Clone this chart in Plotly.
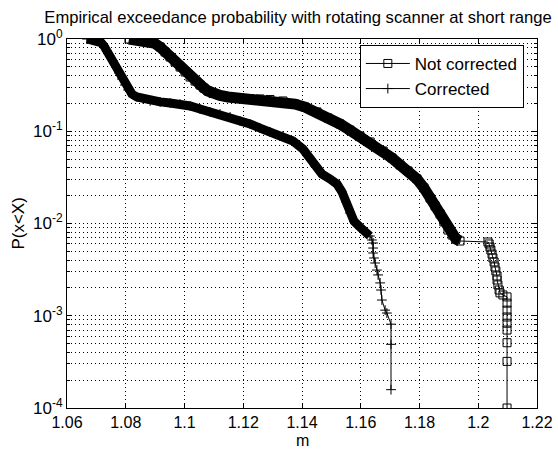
import plotly.graph_objects as go

# Empirical exceedance probability, scanner range readings (m)
# Not corrected: dense part followed by the sparse upper tail
nc_x = [1.0811, 1.0828, 1.0845, 1.0862, 1.0879, 1.0896, 1.0917, 1.0934, 1.0951, 1.0968,
        1.0985, 1.1002, 1.1019, 1.1036, 1.1053, 1.1066, 1.1080, 1.1097, 1.1121, 1.1148,
        1.1189, 1.1223, 1.1257, 1.1291, 1.1335, 1.1376, 1.1410, 1.1451, 1.1489, 1.1529,
        1.1563, 1.1597, 1.1632, 1.1676, 1.1706, 1.1734, 1.1761, 1.1791, 1.1815, 1.1836,
        1.1853, 1.1870, 1.1883, 1.1897, 1.1911, 1.1924, 1.1938,
        1.2033, 1.2037, 1.2040, 1.2043, 1.2047, 1.2050, 1.2054, 1.2057, 1.2060, 1.2064,
        1.2064, 1.2067, 1.2071, 1.2074, 1.2084, 1.2098, 1.2098, 1.2098, 1.2098, 1.2098,
        1.2098, 1.2098, 1.2098, 1.2098]
nc_p = [1.0, 0.993, 0.985, 0.970, 0.947, 0.905, 0.819, 0.723, 0.638, 0.563,
        0.497, 0.439, 0.387, 0.350, 0.317, 0.294, 0.273, 0.257, 0.244, 0.235,
        0.229, 0.226, 0.224, 0.221, 0.213, 0.197, 0.183, 0.162, 0.139, 0.120,
        0.103, 0.0888, 0.0765, 0.0611, 0.0513, 0.0431, 0.0371, 0.0304, 0.0243, 0.0189,
        0.0155, 0.0127, 0.0104, 0.0085, 0.0075, 0.0068, 0.00646,
        0.0063, 0.0060, 0.00556, 0.00516, 0.00467, 0.00423, 0.00383, 0.00338, 0.00306, 0.0027,
        0.00244, 0.00216, 0.0019, 0.00177, 0.00168, 0.0016, 0.00137, 0.00115, 0.00097, 0.00083,
        0.0007, 0.00051, 0.00032, 0.0001]
nc_dense = 47  # points in the densely sampled part

# Corrected
c_x = [1.0668, 1.0685, 1.0702, 1.0716, 1.0726, 1.0736, 1.0746, 1.0757, 1.0767, 1.0777,
       1.0787, 1.0797, 1.0808, 1.0821, 1.0838, 1.0859, 1.0883, 1.0917, 1.0951, 1.0985,
       1.1019, 1.1053, 1.1087, 1.1121, 1.1155, 1.1189, 1.1223, 1.1257, 1.1291, 1.1335,
       1.1369, 1.1403, 1.1427, 1.1444, 1.1468, 1.1495, 1.1519, 1.1536, 1.1550, 1.1563,
       1.1577, 1.1597, 1.1618, 1.1631,
       1.1638, 1.1642, 1.1642, 1.1642, 1.1645, 1.1649, 1.1655, 1.1659, 1.1666, 1.1669,
       1.1672, 1.1683, 1.1689, 1.1703, 1.1703, 1.1703]
c_p = [1.0, 0.988, 0.963, 0.916, 0.840, 0.741, 0.654, 0.578, 0.497, 0.428,
       0.368, 0.317, 0.280, 0.253, 0.235, 0.224, 0.213, 0.208, 0.202, 0.197,
       0.188, 0.174, 0.162, 0.154, 0.143, 0.129, 0.120, 0.108, 0.0981, 0.0888,
       0.0784, 0.0642, 0.0513, 0.0420, 0.0344, 0.0304, 0.0268, 0.0220, 0.0171, 0.0130,
       0.0106, 0.00916, 0.00809, 0.00732,
       0.00663, 0.00615, 0.00542, 0.00479, 0.00423, 0.00373, 0.00313, 0.00277, 0.00227, 0.0019,
       0.00148, 0.00115, 0.00107, 0.00081, 0.00049, 0.000158]
c_dense = 44

x_ticks = [1.06, 1.08, 1.1, 1.12, 1.14, 1.16, 1.18, 1.2, 1.22]
x_labels = ["1.06", "1.08", "1.1", "1.12", "1.14", "1.16", "1.18", "1.2", "1.22"]
y_ticks = [1, 0.1, 0.01, 0.001, 0.0001]
y_labels = ["10<sup>0</sup>", "10<sup>-1</sup>", "10<sup>-2</sup>", "10<sup>-3</sup>", "10<sup>-4</sup>"]

FONT = "Liberation Sans, Arial, Helvetica, sans-serif"

fig = go.Figure()

# Heavily overlapping markers in the densely sampled part render as a solid band
fig.add_trace(go.Scatter(x=nc_x[:nc_dense], y=nc_p[:nc_dense], mode="lines",
                         line=dict(color="black", width=11), showlegend=False,
                         hoverinfo="skip"))
fig.add_trace(go.Scatter(x=c_x[:c_dense], y=c_p[:c_dense], mode="lines",
                         line=dict(color="black", width=9), showlegend=False,
                         hoverinfo="skip"))

fig.add_trace(go.Scatter(x=nc_x, y=nc_p, mode="lines+markers", name="Not corrected",
                         line=dict(color="black", width=1),
                         marker=dict(symbol="square-open", size=8, color="black",
                                     line=dict(color="black", width=1))))
fig.add_trace(go.Scatter(x=c_x, y=c_p, mode="lines+markers", name="Corrected",
                         line=dict(color="black", width=1),
                         marker=dict(symbol="cross-thin-open", size=7, color="black",
                                     line=dict(color="black", width=1))))

grid_dash = "1px,3px"
fig.update_xaxes(range=[1.06, 1.22], tickvals=x_ticks, ticktext=x_labels,
                 automargin=False,
                 showline=True, linecolor="black", linewidth=1, mirror="ticks",
                 ticks="inside", ticklen=5, tickcolor="black",
                 showgrid=True, gridcolor="black", gridwidth=1, griddash=grid_dash,
                 zeroline=False,
                 tickfont=dict(family=FONT, size=16, color="black"))
fig.update_yaxes(type="log", range=[-4, 0], tickvals=y_ticks, ticktext=y_labels,
                 automargin=False,
                 showline=True, linecolor="black", linewidth=1, mirror="ticks",
                 ticks="inside", ticklen=5, tickcolor="black",
                 showgrid=True, gridcolor="black", gridwidth=1, griddash=grid_dash,
                 minor=dict(dtick="D1", ticks="inside", ticklen=3, tickcolor="black",
                            showgrid=True, gridcolor="black", gridwidth=1,
                            griddash=grid_dash),
                 zeroline=False,
                 tickfont=dict(family=FONT, size=17, color="black"))

# Axis titles
fig.add_annotation(text="m", xref="paper", yref="paper", x=0.5, y=-0.089,
                   xanchor="center", yanchor="middle", showarrow=False, borderpad=0,
                   font=dict(family=FONT, size=16, color="black"))
fig.add_annotation(text="P(x&lt;X)", xref="paper", yref="paper", x=-0.104, y=0.5,
                   xanchor="center", yanchor="middle", textangle=-90, showarrow=False,
                   font=dict(family=FONT, size=17, color="black"))

fig.update_layout(
    width=558, height=450,
    margin=dict(l=67, r=21, t=39, b=42),
    paper_bgcolor="white", plot_bgcolor="white",
    font=dict(family=FONT, size=17, color="black"),
    title=dict(text="Empirical exceedance probability with rotating scanner at short range",
               x=0.534, xref="container", xanchor="center",
               y=0.962, yref="container", yanchor="middle",
               font=dict(family=FONT, size=16.6, color="black")),
    legend=dict(x=0.972, y=0.984, xanchor="right", yanchor="top",
                bgcolor="white", bordercolor="black", borderwidth=1,
                font=dict(family=FONT, size=17, color="black"),
                itemwidth=44, tracegroupgap=0),
    showlegend=True,
)

fig.write_html("out.html")
